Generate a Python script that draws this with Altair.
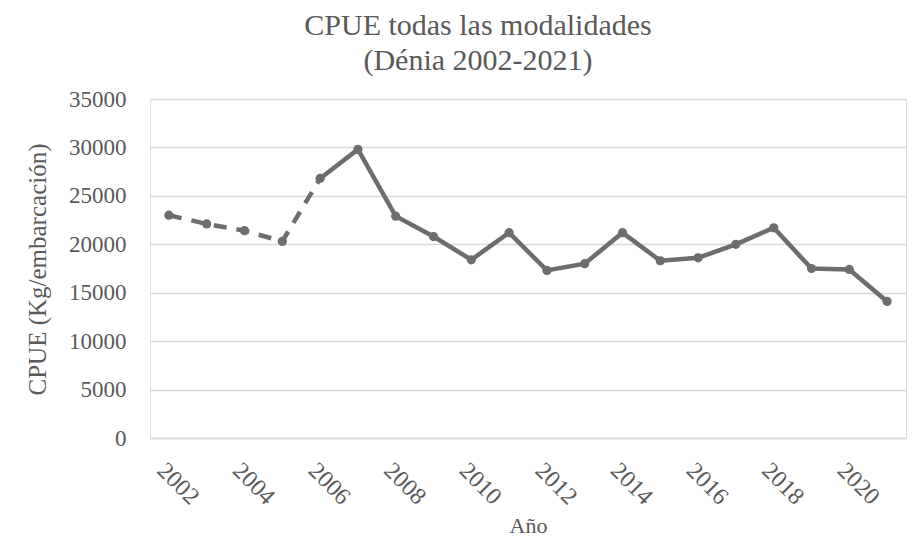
import altair as alt
import pandas as pd

years = [2002, 2003, 2004, 2005, 2006, 2007, 2008, 2009, 2010, 2011,
         2012, 2013, 2014, 2015, 2016, 2017, 2018, 2019, 2020, 2021]
cpue = [23000, 22100, 21400, 20300, 26800, 29800, 22900, 20800, 18400, 21200,
        17300, 18000, 21200, 18300, 18600, 20000, 21700, 17500, 17400, 14100]
label_years = [2002, 2004, 2006, 2008, 2010, 2012, 2014, 2016, 2018, 2020]
y_ticks = [0, 5000, 10000, 15000, 20000, 25000, 30000, 35000]

df = pd.DataFrame({"year": years, "cpue": cpue})

FONT = "Liberation Serif"
TXT = "#595959"
LINE = "#6d6d6d"

x = alt.X(
    "year:O",
    scale=alt.Scale(type="point", padding=0.5),
    axis=alt.Axis(
        title="Año",
        values=label_years,
        labelAngle=45,
        labelAlign="left",
        labelBaseline="top",
        labelPadding=20,
        labelFontSize=24,
        labelFont=FONT,
        labelColor=TXT,
        ticks=False,
        domainColor="#d9d9d9",
        domainWidth=1.5,
        grid=False,
        titleFont=FONT,
        titleFontSize=22,
        titleFontWeight="normal",
        titleColor=TXT,
        titleY=87,
        titleBaseline="middle",
    ),
)
y = alt.Y(
    "cpue:Q",
    scale=alt.Scale(domain=[0, 35000], nice=False),
    axis=alt.Axis(
        title="CPUE (Kg/embarcación)",
        values=y_ticks,
        format="d",
        labelFontSize=23,
        labelFont=FONT,
        labelColor=TXT,
        labelPadding=24,
        ticks=False,
        domainColor="#e0e0e0",
        gridColor="#d9d9d9",
        gridWidth=1.5,
        titleFont=FONT,
        titleFontSize=25,
        titleFontWeight="normal",
        titleColor=TXT,
        titleX=-113,
        titleY=170,
        titleBaseline="middle",
        titleAngle=270,
    ),
)

base = alt.Chart(df)

dashed = base.transform_filter(alt.datum.year <= 2006).mark_line(
    color=LINE, strokeWidth=4.5, strokeDash=[13, 10]
).encode(x=x, y=y)

solid = base.transform_filter(alt.datum.year >= 2006).mark_line(
    color=LINE, strokeWidth=4.5
).encode(x=x, y=y)

points = base.mark_point(
    filled=True, color=LINE, size=85, opacity=1
).encode(x=x, y=y)

chart = (
    alt.layer(dashed, solid, points)
    .properties(
        width=756,
        height=339,
        title=alt.TitleParams(
            text=["CPUE todas las modalidades", "(Dénia 2002-2021)"],
            font=FONT,
            fontSize=30,
            fontWeight="normal",
            color=TXT,
            anchor="middle",
            dx=-50,
            offset=12,
            lineHeight=35,
        ),
        autosize=alt.AutoSizeParams(type="none"),
        padding={"left": 142, "top": 91, "right": 1, "bottom": 102},
    )
    .configure_view(stroke=None)
    .configure(background="white")
)

chart.save("out.html", embed_options={"renderer": "svg", "actions": False})
